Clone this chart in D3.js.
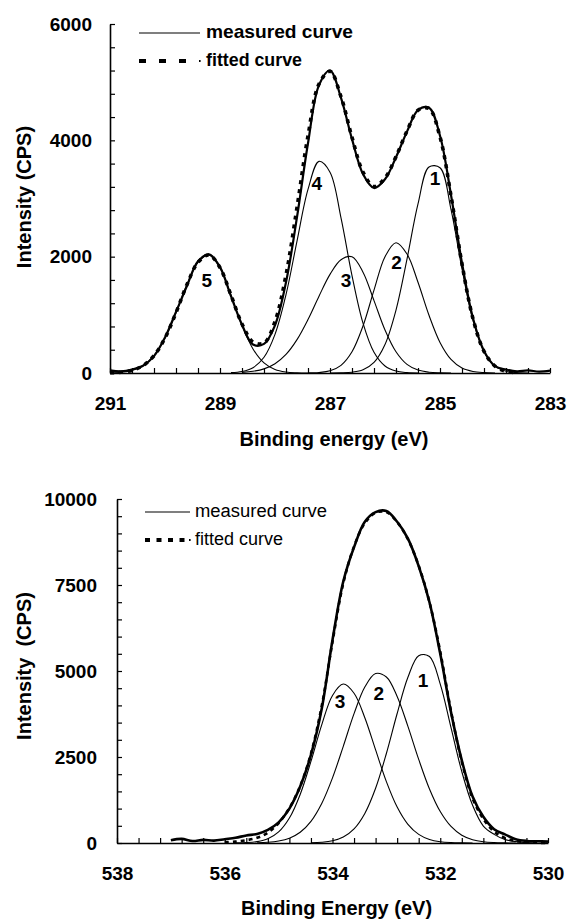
<!DOCTYPE html>
<html>
<head>
<meta charset="utf-8">
<script src="https://cdn.jsdelivr.net/npm/d3@7"></script>
<style>
  body { margin: 0; background: #fff; }
  svg { display: block; font-family: "Liberation Sans", Arial, sans-serif; }
</style>
</head>
<body>
<svg id="chart" width="571" height="921"></svg>
<script>
// ---- C 1s spectrum (top) ----
var c1sEnergy = [291.0, 290.8, 290.6, 290.4, 290.2, 290.0, 289.8, 289.6, 289.4, 289.2,
  289.0, 288.8, 288.6, 288.4, 288.2, 288.0, 287.8, 287.6, 287.4, 287.2,
  287.0, 286.8, 286.6, 286.4, 286.2, 286.0, 285.8, 285.6, 285.4, 285.2,
  285.0, 284.8, 284.6, 284.4, 284.2, 284.0, 283.8, 283.6, 283.4, 283.2, 283.0];
var c1sMeasured = [45, 30, 60, 125, 290, 610, 1050, 1500, 1920, 2040,
  1820, 1320, 830, 490, 500, 820, 1560, 2680, 3950, 4950,
  5200, 4730, 4020, 3420, 3180, 3330, 3710, 4150, 4520, 4560,
  4080, 3060, 1890, 940, 380, 120, 60, 30, 45, 25, 40];
var c1sFitted = [4, 14, 45, 126, 298, 601, 1036, 1521, 1902, 2029,
  1811, 1338, 843, 534, 515, 884, 1684, 2846, 4077, 4968,
  5187, 4750, 4051, 3454, 3207, 3351, 3720, 4159, 4517, 4547,
  4058, 3047, 1874, 933, 373, 118, 30, 6, null, null, null];
var c1sPeak1 = [null, null, null, null, null, null, null, null, null, null,
  null, null, null, null, null, null, null, null, null, null,
  1, 3, 14, 56, 183, 491, 1082, 1958, 2907, 3541,
  3529, 2813, 1788, 906, 366, 118, 30, 6, 0, null, null];
var c1sPeak2 = [null, null, null, null, null, null, null, null, null, null,
  null, null, null, null, null, null, null, null, 2, 9,
  38, 132, 365, 808, 1424, 2000, 2240, 2046, 1560, 992,
  526, 234, 86, 27, 7, 0, null, null, null, null, null];
var c1sPeak3 = [null, null, null, null, null, null, null, null, null, null,
  null, null, 10, 29, 71, 160, 320, 574, 920, 1321,
  1696, 1948, 1998, 1734, 1245, 740, 365, 148, 50, 14,
  3, 0, null, null, null, null, null, null, null, null, null];
var c1sPeak4 = [null, null, null, null, null, null, null, null, null, null,
  null, 6, 25, 91, 270, 664, 1347, 2268, 3157, 3638,
  3453, 2667, 1674, 856, 355, 120, 33, 7, 0, null,
  null, null, null, null, null, null, null, null, null, null, null];
var c1sPeak5 = [4, 14, 45, 126, 298, 601, 1036, 1521, 1902, 2029,
  1811, 1338, 818, 414, 174, 60, 17, 4, 0, null,
  null, null, null, null, null, null, null, null, null, null,
  null, null, null, null, null, null, null, null, null, null, null];
var c1sPeakNames = ["1", "2", "3", "4", "5"];
var c1sLabelEnergy = [285.09, 285.79, 286.71, 287.24, 289.24];
var c1sLabelIntensity = [3350, 1910, 1600, 3270, 1600];
var c1sXLabels = [291, 289, 287, 285, 283];
var c1sYLabels = [0, 2000, 4000, 6000];

// ---- O 1s spectrum (bottom) ----
var o1sEnergy = [537.0, 536.8, 536.6, 536.4, 536.2, 536.0, 535.8, 535.6, 535.4, 535.2,
  535.0, 534.8, 534.6, 534.4, 534.2, 534.0, 533.8, 533.6, 533.4, 533.2,
  533.0, 532.8, 532.6, 532.4, 532.2, 532.0, 531.8, 531.6, 531.4, 531.2,
  531.0, 530.8, 530.6, 530.4, 530.2, 530.0];
var o1sMeasured = [80, 120, 60, 90, 70, 110, 150, 220, 260, 380,
  600, 1000, 1640, 2560, 3900, 5900, 7600, 8600, 9340, 9620,
  9650, 9340, 8850, 8050, 7000, 5500, 3800, 2400, 1350, 760,
  400, 250, 110, 60, 50, 40];
var o1sFitted = [null, null, null, null, null, 20, 40, 80, 150, 300,
  580, 1020, 1650, 2600, 3980, 5850, 7550, 8620, 9300, 9600,
  9620, 9330, 8830, 8060, 7000, 5560, 3830, 2360, 1300, 700,
  330, 150, 60, 20, 5, 0];
var o1sPeak1 = [null, null, null, null, null, null, null, null, null, null,
  null, null, null, 6, 21, 65, 174, 411, 860, 1591,
  2602, 3764, 4817, 5445, 5420, 4619, 3354, 2075, 1095, 492,
  250, 100, 40, 10, 0, null];
var o1sPeak2 = [null, null, null, null, null, null, null, null, 7, 20,
  56, 138, 311, 630, 1150, 1894, 2811, 3760, 4534, 4927,
  4825, 4260, 3390, 2431, 1571, 914, 481, 228, 97, 37,
  13, 4, 0, null, null, null];
var o1sPeak3 = [null, null, null, null, null, null, 3, 11, 40, 122,
  321, 725, 1412, 2372, 3435, 4290, 4620, 4353, 3642, 2706,
  1785, 1046, 544, 251, 103, 38, 12, 3, 0, null,
  null, null, null, null, null, null];
var o1sPeakNames = ["1", "2", "3"];
var o1sLabelEnergy = [532.32, 533.14, 533.86];
var o1sLabelIntensity = [4740, 4360, 4110];
var o1sXLabels = [538, 536, 534, 532, 530];
var o1sYLabels = [0, 2500, 5000, 7500, 10000];

var svg = d3.select("#chart");

function near(list, v) {
  return list.some(function(l) { return Math.abs(l - v) < 1e-6; });
}

function drawPanel(cfg) {
  var x = d3.scaleLinear().domain(cfg.xDomain).range([cfg.left, cfg.right]);
  var y = d3.scaleLinear().domain(cfg.yDomain).range([cfg.bottom, cfg.top]);
  var g = svg.append("g");

  var line = d3.line()
      .defined(function(d) { return d[1] !== null; })
      .x(function(d) { return x(d[0]); })
      .y(function(d) { return y(d[1]); })
      .curve(d3.curveCatmullRom);

  function pairs(values) {
    return cfg.energy.map(function(e, i) { return [e, values[i]]; });
  }

  // fitted components
  cfg.peaks.forEach(function(p) {
    g.append("path")
        .attr("d", line(pairs(p)))
        .attr("fill", "none")
        .attr("stroke", "#000")
        .attr("stroke-width", 1.1);
  });

  // measured + fitted envelope
  g.append("path")
      .attr("d", line(pairs(cfg.measured)))
      .attr("fill", "none")
      .attr("stroke", "#000")
      .attr("stroke-width", cfg.measuredWidth);
  g.append("path")
      .attr("d", line(pairs(cfg.fitted)))
      .attr("fill", "none")
      .attr("stroke", "#000")
      .attr("stroke-width", cfg.fittedWidth)
      .attr("stroke-dasharray", cfg.fittedDash);

  // peak numbers
  g.selectAll("text.peak")
      .data(cfg.peakNames)
    .enter().append("text")
      .attr("class", "peak")
      .attr("x", function(d, i) { return x(cfg.labelEnergy[i]); })
      .attr("y", function(d, i) { return y(cfg.labelIntensity[i]); })
      .attr("dy", "0.36em")
      .attr("text-anchor", "middle")
      .attr("font-size", 19)
      .attr("font-weight", "bold")
      .text(function(d) { return d; });

  // axes: minor ticks everywhere, labels only on the major ones
  var xTicks = d3.range(0, 21).map(function(i) { return cfg.xDomain[1] + i * 0.4; });
  var yTicks = d3.range(0, cfg.yCount + 1).map(function(i) { return i * cfg.yStep; });

  var xAxis = d3.axisBottom(x)
      .tickValues(xTicks)
      .tickSizeInner(-5)
      .tickSizeOuter(0)
      .tickPadding(24)
      .tickFormat(function(d) { return near(cfg.xLabels, d) ? d3.format("d")(Math.round(d)) : ""; });
  var yAxis = d3.axisLeft(y)
      .tickValues(yTicks)
      .tickSizeInner(-5)
      .tickSizeOuter(0)
      .tickPadding(cfg.yPad)
      .tickFormat(function(d) { return near(cfg.yLabels, d) ? d : ""; });

  [g.append("g").attr("transform", "translate(0," + cfg.bottom + ")").call(xAxis),
   g.append("g").attr("transform", "translate(" + cfg.left + ",0)").call(yAxis)]
    .forEach(function(a) {
      a.select(".domain").attr("stroke-width", 1.6);
      a.selectAll(".tick line").attr("stroke-width", 1.2);
      a.selectAll("text")
          .attr("font-family", null)
          .attr("font-size", 19)
          .attr("font-weight", "bold")
          .attr("fill", "#000");
    });
  g.selectAll(".domain, .tick line").attr("stroke", "#000");

  // axis titles
  g.append("text")
      .attr("x", (cfg.left + cfg.right) / 2 + 4)
      .attr("y", cfg.xTitleY)
      .attr("text-anchor", "middle")
      .attr("font-size", 20)
      .attr("font-weight", "bold")
      .text(cfg.xTitle);
  g.append("text")
      .attr("transform", "translate(31," + cfg.yTitleY + ") rotate(-90)")
      .attr("text-anchor", "middle")
      .attr("font-size", 20)
      .attr("font-weight", "bold")
      .style("white-space", "pre")
      .text(cfg.yTitle);

  // legend
  var lg = cfg.legend;
  g.append("line")
      .attr("x1", lg.x0).attr("x2", lg.x1)
      .attr("y1", lg.y0).attr("y2", lg.y0)
      .attr("stroke", "#000").attr("stroke-width", 1.2);
  g.append("line")
      .attr("x1", lg.x0).attr("x2", lg.dashEnd)
      .attr("y1", lg.y1).attr("y2", lg.y1)
      .attr("stroke", "#000").attr("stroke-width", 4)
      .attr("stroke-dasharray", lg.dash);
  g.append("rect")
      .attr("x", lg.x1 - 1).attr("y", lg.y1 - 1)
      .attr("width", 1.6).attr("height", 2)
      .attr("fill", "#000");
  [["measured curve", lg.y0 + lg.base, lg.w0], ["fitted curve", lg.y1 + lg.base, lg.w1]]
    .forEach(function(t) {
      g.append("text")
          .attr("x", lg.tx)
          .attr("y", t[1])
          .attr("font-size", lg.size)
          .attr("font-weight", lg.weight)
          .attr("textLength", t[2])
          .attr("lengthAdjust", "spacingAndGlyphs")
          .text(t[0]);
    });
}

drawPanel({
  energy: c1sEnergy, measured: c1sMeasured, fitted: c1sFitted,
  peaks: [c1sPeak1, c1sPeak2, c1sPeak3, c1sPeak4, c1sPeak5],
  peakNames: c1sPeakNames, labelEnergy: c1sLabelEnergy, labelIntensity: c1sLabelIntensity,
  xDomain: [291, 283], yDomain: [0, 6000], yStep: 400, yCount: 15,
  xLabels: c1sXLabels, yLabels: c1sYLabels,
  left: 110, right: 550, top: 24, bottom: 373, yPad: 18,
  measuredWidth: 2.2, fittedWidth: 3.6, fittedDash: "4,5",
  xTitle: "Binding energy (eV)", xTitleY: 446,
  yTitle: "Intensity (CPS)", yTitleY: 197,
  legend: { x0: 139, x1: 200, dashEnd: 187, y0: 33, y1: 61, dash: "7,13", tx: 206,
            base: 5, w0: 147, w1: 96, size: 19, weight: "bold" }
});

drawPanel({
  energy: o1sEnergy, measured: o1sMeasured, fitted: o1sFitted,
  peaks: [o1sPeak1, o1sPeak2, o1sPeak3],
  peakNames: o1sPeakNames, labelEnergy: o1sLabelEnergy, labelIntensity: o1sLabelIntensity,
  xDomain: [538, 530], yDomain: [0, 10000], yStep: 500, yCount: 20,
  xLabels: o1sXLabels, yLabels: o1sYLabels,
  left: 117, right: 548, top: 499, bottom: 843, yPad: 20,
  measuredWidth: 2.6, fittedWidth: 2.6, fittedDash: "4,4",
  xTitle: "Binding Energy (eV)", xTitleY: 915,
  yTitle: "Intensity  (CPS)", yTitleY: 666,
  legend: { x0: 145, x1: 190, dashEnd: 186, y0: 512, y1: 540, dash: "5,6.5", tx: 195,
            base: 5, w0: 132, w1: 88, size: 18, weight: "normal" }
});
</script>
</body>
</html>
